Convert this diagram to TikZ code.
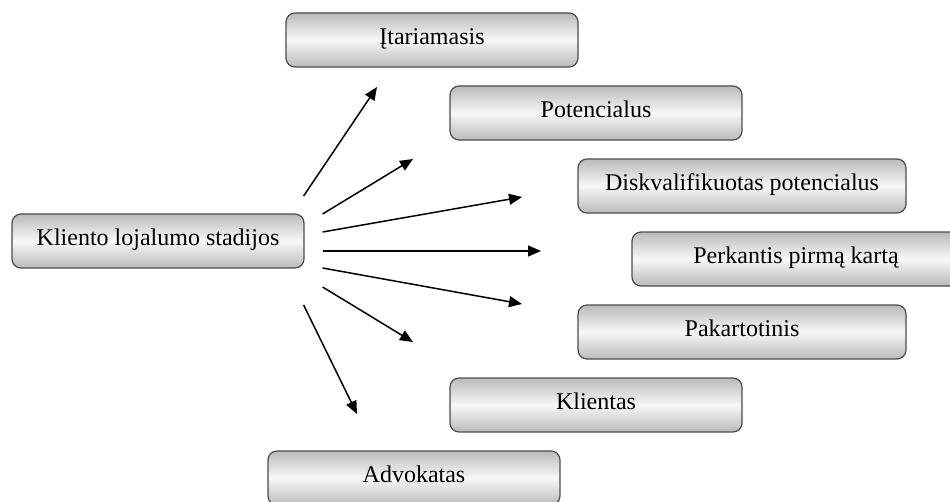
\documentclass[tikz,border=0pt]{standalone}
\usepackage{fontspec}
\setmainfont{Liberation Serif}
\usetikzlibrary{arrows.meta}

\begin{document}
\begin{tikzpicture}[x=1pt,y=-1pt,
    stage/.style={draw=black!70, line width=1.2pt, rounded corners=9pt,
      top color=black!27, bottom color=black!27, middle color=black!3,
      minimum height=54pt, inner sep=0pt, text height=17pt, text depth=8pt,
      font=\fontsize{24}{28}\selectfont},
    arr/.style={line width=1.5pt, -{Triangle[length=13pt,width=11pt]}}]
  \clip (0,0) rectangle (950,501);

  \node [stage, minimum width=292pt] (src) at (158,241) {Kliento lojalumo stadijos};

  \node [stage, minimum width=292pt] (ita) at (432,40) {Įtariamasis};
  \node [stage, minimum width=292pt] (pot) at (596,113) {Potencialus};
  \node [stage, minimum width=328pt] (disk) at (742,186) {Diskvalifikuotas potencialus};
  \node [stage, minimum width=328pt] (perk) at (796,259) {Perkantis pirmą kartą};
  \node [stage, minimum width=328pt] (pak) at (742,332) {Pakartotinis};
  \node [stage, minimum width=292pt] (kli) at (596,405) {Klientas};
  \node [stage, minimum width=292pt] (adv) at (414,478) {Advokatas};

  \foreach \i/\dx/\dy/\ex/\ey in {1/-1/-45/377/87, 2/18/-27/413/159,
      3/18/-9/522/197, 4/18/10/541/251, 5/18/27/522/304,
      6/18/46/413/342, 7/-1/64/357/414} {
    \coordinate (s\i) at ([shift={(\dx,\dy)}]src.east);
    \coordinate (e\i) at (\ex,\ey);
    \draw [arr] (s\i) -- (e\i);
  }
\end{tikzpicture}
\end{document}
